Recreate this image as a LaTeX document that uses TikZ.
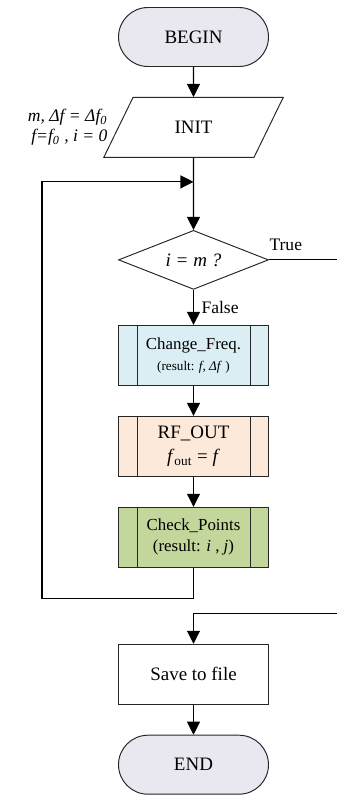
\documentclass[tikz,border=0pt]{standalone}
\usepackage{fontspec}
\setmainfont{Liberation Serif}
\usetikzlibrary{arrows.meta,positioning,calc,shapes.geometric}
\definecolor{termfill}{RGB}{233,231,239}
\definecolor{freqfill}{RGB}{218,238,243}
\definecolor{rffill}{RGB}{253,233,217}
\definecolor{checkfill}{RGB}{195,214,155}
\tikzset{
  box/.style={draw=black!85, line width=0.55pt, align=center, minimum width=30mm, minimum height=12mm,
    inner sep=1mm, font=\fontsize{10.8}{13}\selectfont},
  terminal/.style={box, rounded corners=5.9mm, minimum height=11.8mm, fill=termfill},
  io/.style={box, trapezium, trapezium left angle=64, trapezium right angle=116,
    minimum width=0pt, minimum height=0pt, inner ysep=0pt, text width=22.2mm,
    text height=20.6pt, text depth=13.5pt},
  decision/.style={box, diamond, aspect=2.5, minimum height=11.8mm, inner sep=0pt},
  subproc/.style={box, path picture={
      \draw[black!85, line width=0.55pt]
        ([xshift=3.7mm]path picture bounding box.north west) -- ([xshift=3.7mm]path picture bounding box.south west)
        ([xshift=-3.7mm]path picture bounding box.north east) -- ([xshift=-3.7mm]path picture bounding box.south east);}},
  arrow/.style={-{Triangle[length=2.6mm,width=2.6mm]}, line width=0.6pt},
  small/.style={font=\fontsize{9.6}{12}\selectfont},
}
\begin{document}
\begin{tikzpicture}[node distance=6mm]
  \useasboundingbox (-3.87,0.74) rectangle (2.85,-15.22);
  \node[terminal] (begin) {BEGIN};
  \node[io, below=of begin] (init) {INIT};
  \node[left=2mm of init.west, align=right, inner sep=0pt, font=\fontsize{10}{11.5}\selectfont] (initvals)
    {\textit{m, Δf = Δf\textsubscript{0}}\\\textit{f=f\textsubscript{0} , i = 0}};
  \node[decision, below=14.4mm of init] (check) {\textit{i = m ?}};
  \node[subproc, small, fill=freqfill, below=7mm of check] (freq)
    {Change\_Freq.\\{\fontsize{7.5}{9}\selectfont (result: \textit{f}, \textit{Δf} )}};
  \node[subproc, fill=rffill, below=of freq, font=\fontsize{10.8}{14}\selectfont] (rfout)
    {RF\_OUT\\\textit{f}\textsubscript{out} = \textit{f}};
  \node[subproc, small, fill=checkfill, below=of rfout] (points)
    {Check\_Points\\(result: \textit{i} , \textit{j})};
  \node[box, below=15.2mm of points] (save) {Save to file};
  \node[terminal, below=of save] (end) {END};

  % loop entry and exit points
  \coordinate (join) at ([yshift=-4.8mm]init.south);
  \coordinate (merge) at ([yshift=6mm]save.north);

  \draw[arrow] (begin) -- (init);
  \draw[arrow] (init) -- (check);
  \draw[arrow] (check) -- node[right, inner sep=1.5mm] {False} (freq);
  \draw[arrow] (freq) -- (rfout);
  \draw[arrow] (rfout) -- (points);
  \draw[arrow] (points.south) -- ++(0,-6.2mm) -| ($(join)+(-30.3mm,0)$) -- (join);
  \draw[arrow] (check.east) -- node[pos=0, anchor=south west, inner sep=0pt, yshift=1.8mm] {True}
    ++(14mm,0) |- (merge) -- (save);
  \draw[arrow] (save) -- (end);
\end{tikzpicture}
\end{document}
